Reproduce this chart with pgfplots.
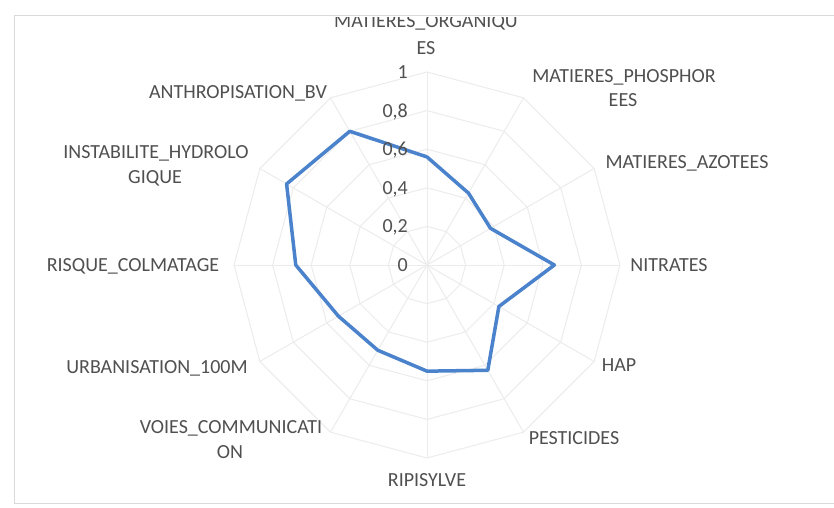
\documentclass[border=0pt]{standalone}
\usepackage{pgfplots}
\pgfplotsset{compat=1.18}
\usepgfplotslibrary{polar}
\usepackage{fontspec}
\setmainfont{Carlito}
\definecolor{txt}{HTML}{505050}
\definecolor{gridc}{HTML}{ECECEC}
\definecolor{serie}{HTML}{4A82CC}
\begin{document}
\begin{tikzpicture}[x=1pt,y=1pt,lbl/.style={font=\fontsize{20}{24}\selectfont,text=txt,inner sep=0pt,anchor=base}]
\useasboundingbox (0,0) rectangle (834,507);
\fill[white] (0,0) rectangle (834,507);
\begin{polaraxis}[
  at={(427pt,242pt)}, anchor=center,
  width=386pt, height=386pt, scale only axis,
  ymin=0, ymax=1, hide axis, clip=false,
]
\pgfplotsinvokeforeach{0.2,0.4,0.6,0.8,1}{
  \addplot[gridc, line width=1pt] coordinates {(0,#1)(30,#1)(60,#1)(90,#1)(120,#1)(150,#1)(180,#1)(210,#1)(240,#1)(270,#1)(300,#1)(330,#1)(360,#1)};
}
\pgfplotsinvokeforeach{0,30,60,90,120,150,180,210,240,270,300,330}{
  \addplot[gridc, line width=1pt] coordinates {(#1,0)(#1,1)};
}
\addplot[serie, line width=3.5pt, line join=round] coordinates {
  (90,0.56) (60,0.43) (30,0.38) (0,0.66) (-30,0.43) (-60,0.63)
  (-90,0.55) (-120,0.51) (-150,0.53) (-180,0.68) (-210,0.84) (-240,0.80) (-270,0.56)
};
\node[lbl, anchor=base east, xshift=-19pt, yshift=-6.5pt] at (axis cs:90,0) {0};
\node[lbl, anchor=base east, xshift=-19pt, yshift=-6.5pt] at (axis cs:90,0.2) {0,2};
\node[lbl, anchor=base east, xshift=-19pt, yshift=-6.5pt] at (axis cs:90,0.4) {0,4};
\node[lbl, anchor=base east, xshift=-19pt, yshift=-6.5pt] at (axis cs:90,0.6) {0,6};
\node[lbl, anchor=base east, xshift=-19pt, yshift=-6.5pt] at (axis cs:90,0.8) {0,8};
\node[lbl, anchor=base east, xshift=-19pt, yshift=-6.5pt] at (axis cs:90,1) {1};
\end{polaraxis}
\node[lbl] at (426,479) {MATIERES\_ORGANIQU};
\node[lbl] at (426,452) {ES};
\node[lbl] at (624,424) {MATIERES\_PHOSPHOR};
\node[lbl] at (623,400) {EES};
\node[lbl] at (687,339) {MATIERES\_AZOTEES};
\node[lbl] at (669,235.5) {NITRATES};
\node[lbl] at (619,135.5) {HAP};
\node[lbl] at (574,62.5) {PESTICIDES};
\node[lbl] at (427,20.5) {RIPISYLVE};
\node[lbl] at (231,73.5) {VOIES\_COMMUNICATI};
\node[lbl] at (230,48.5) {ON};
\node[lbl] at (157,133.5) {URBANISATION\_100M};
\node[lbl] at (133,235.5) {RISQUE\_COLMATAGE};
\node[lbl] at (156,348.5) {INSTABILITE\_HYDROLO};
\node[lbl] at (155,323.5) {GIQUE};
\node[lbl] at (238,408.5) {ANTHROPISATION\_BV};
\fill[white] (0,490) rectangle (834,507);
\draw[gray!30, line width=1pt] (14,4) rectangle (850,491);
\end{tikzpicture}
\end{document}
